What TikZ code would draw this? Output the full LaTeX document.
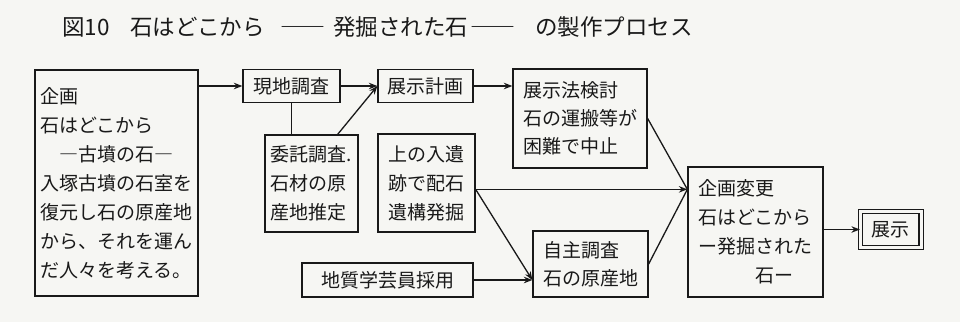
\documentclass[tikz,border=0pt]{standalone}
\usepackage{fontspec}
\setmainfont{Noto Sans CJK JP}
\usetikzlibrary{arrows.meta,calc}
\definecolor{paper}{RGB}{246,246,243}
\definecolor{ink}{RGB}{25,25,25}
\begin{document}
\begin{tikzpicture}[x=1pt,y=-1pt,
  box/.style={draw=ink, text=ink, line width=1.3pt, inner sep=0pt,
    font=\fontsize{19}{29}\selectfont, align=left},
  ttl/.style={text=ink, font=\fontsize{22.5}{27}\selectfont, anchor=base west, inner sep=0pt},
  arr/.style={draw=ink, line width=1.3pt, -{Stealth[length=8.5pt,width=6.5pt]}},
  ln/.style={draw=ink, line width=1.3pt}]
\useasboundingbox[fill=paper] (0,0) rectangle (960,322);

% title
\node[ttl] (t1) at (62,35.5) {図10};
\node[ttl] (t2) at (130,35.5) {石はどこから};
\node[ttl] (t3) at (280,35.5) {――};
\node[ttl] (t4) at (333,35.5) {発掘された石};
\node[ttl] (t5) at (470,35.5) {――};
\node[ttl] (t6) at (535,35.5) {の製作プロセス};

% boxes
\node[box, minimum width=163pt, minimum height=226pt] (plan) at (116.5,183)
  {企画\\石はどこから\\\hspace*{1em}―古墳の石―\\入塚古墳の石室を\\復元し石の原産地\\から、それを運ん\\だ人々を考える。};
\node[box, minimum width=97pt, minimum height=33pt] (gen) at (291.5,86) {現地調査};
\node[box, minimum width=95pt, minimum height=33pt] (keikaku) at (425.5,86) {展示計画};
\node[box, minimum width=93pt, minimum height=97pt] (itaku) at (311.5,183.5)
  {委託調査.\\石材の原\\産地推定};
\node[box, minimum width=97pt, minimum height=98pt] (ue) at (426.5,183)
  {上の入遺\\跡で配石\\遺構発掘};
\node[box, minimum width=134pt, minimum height=99pt, font=\fontsize{19}{28}\selectfont] (kento) at (580,118.5)
  {展示法検討\\石の運搬等が\\困難で中止};
\node[box, minimum width=171pt, minimum height=34pt] (chishitsu) at (387.5,280) {地質学芸員採用};
\node[box, minimum width=115pt, minimum height=66pt, font=\fontsize{19}{28}\selectfont] (jishu) at (590.5,264)
  {自主調査\\石の原産地};
\node[box, minimum width=135pt, minimum height=130pt] (henko) at (755.5,232)
  {企画変更\\石はどこから\\ー発掘された\\\hspace*{3em}石ー};
\node[box, line width=1.2pt, double=paper, double distance=3pt, minimum width=60.5pt, minimum height=36pt] (tenji) at (890.75,229.5) {展示};

% connectors
\draw[arr] (gen.west -| plan.east) -- (gen.west);
\draw[arr] (gen.east) -- (keikaku.west);
\draw[ln] (gen.south) -- (gen.south |- itaku.north);
\draw[arr] ($(itaku.north east)+(-21,0)$) -- (keikaku.west);
\draw[arr] (keikaku.east) -- (keikaku.east -| kento.west);
\coordinate (m) at ($(henko.north west)+(0,23)$);
\coordinate (ueR) at (ue.east |- m);
\draw[ln] (kento.east) -- (m);
\draw[ln] (jishu.east) -- (m);
\draw[arr] (ueR) -- (m);
\draw[arr] (ueR) -- (jishu.west |- chishitsu.east);
\draw[arr] (chishitsu.east) -- (chishitsu.east -| jishu.west);
\draw[arr] (tenji.west -| henko.east) -- (tenji.west);
\end{tikzpicture}
\end{document}
